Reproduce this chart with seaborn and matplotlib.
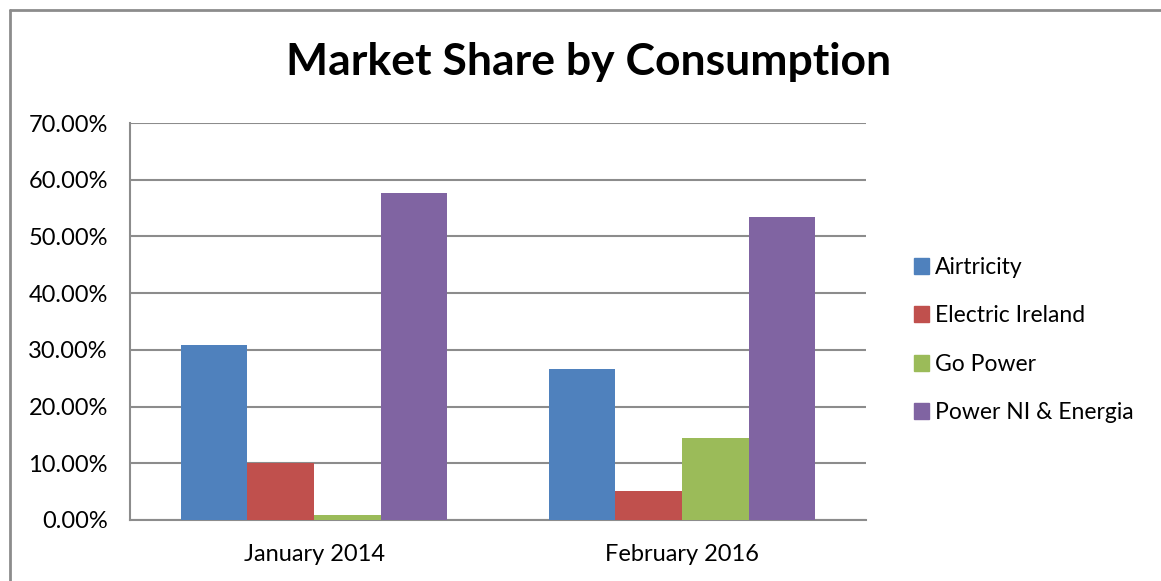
import pandas as pd
import matplotlib.pyplot as plt
import matplotlib.patches as mpatches
from matplotlib.ticker import FuncFormatter
import seaborn as sns

# Daten
periods = ["January 2014", "February 2016"]
suppliers = ["Airtricity", "Electric Ireland", "Go Power", "Power NI & Energia"]
jan_2014 = [30.9, 10.1, 0.9, 57.7]
feb_2016 = [26.7, 5.2, 14.5, 53.4]
colors = ["#4F81BD", "#C0504D", "#9BBB59", "#8064A2"]

df = pd.DataFrame({
    "period": [periods[0]] * 4 + [periods[1]] * 4,
    "supplier": suppliers * 2,
    "share": jan_2014 + feb_2016,
})

sns.set_style("white")
plt.rcParams["font.family"] = ["Lato", "DejaVu Sans"]
plt.rcParams["text.color"] = "black"

fig = plt.figure(figsize=(11.61, 5.81), dpi=100)
ax = fig.add_axes([130 / 1161, 1 - 520 / 581, 736 / 1161, 397 / 581])

sns.barplot(
    data=df, x="period", y="share", hue="supplier",
    hue_order=suppliers, palette=colors, width=0.725,
    saturation=1, ax=ax, legend=False, zorder=3, linewidth=0,
)

ax.set_xlim(-0.5, 1.5)
ax.set_ylim(0, 70)
ax.set_yticks(range(0, 71, 10))
ax.yaxis.set_major_formatter(FuncFormatter(lambda v, p: f"{v:.2f}%"))
ax.grid(axis="y", color="#8c8c8c", linewidth=1.5, zorder=0)
ax.set_axisbelow(True)
ax.set_xlabel("")
ax.set_ylabel("")
ax.tick_params(axis="both", length=0, labelsize=17, colors="black")
ax.tick_params(axis="y", pad=16)
ax.tick_params(axis="x", pad=17)
for s in ["top", "right"]:
    ax.spines[s].set_visible(False)
for s in ["left", "bottom"]:
    ax.spines[s].set_color("#8c8c8c")
    ax.spines[s].set_linewidth(1.5)

handles = [mpatches.Patch(color=c, label=l) for c, l in zip(colors, suppliers)]
fig.legend(
    handles=handles, loc="center left", bbox_to_anchor=(893 / 1161, 1 - 340 / 581),
    frameon=False, fontsize=16.5, handlelength=0.68, handleheight=0.68,
    handletextpad=0.25, labelspacing=1.2,
)

fig.text(589 / 1161, 1 - 62 / 581, "Market Share by Consumption",
         ha="center", va="center", fontsize=32, fontweight="bold", color="black")

# Rahmen oben und links
fig.add_artist(plt.Line2D([10 / 1161, 1], [1 - 10 / 581, 1 - 10 / 581],
                          transform=fig.transFigure, color="#8c8c8c", linewidth=2))
fig.add_artist(plt.Line2D([10 / 1161, 10 / 1161], [0, 1 - 10 / 581],
                          transform=fig.transFigure, color="#8c8c8c", linewidth=2))

fig.savefig("out.png", dpi=100)
